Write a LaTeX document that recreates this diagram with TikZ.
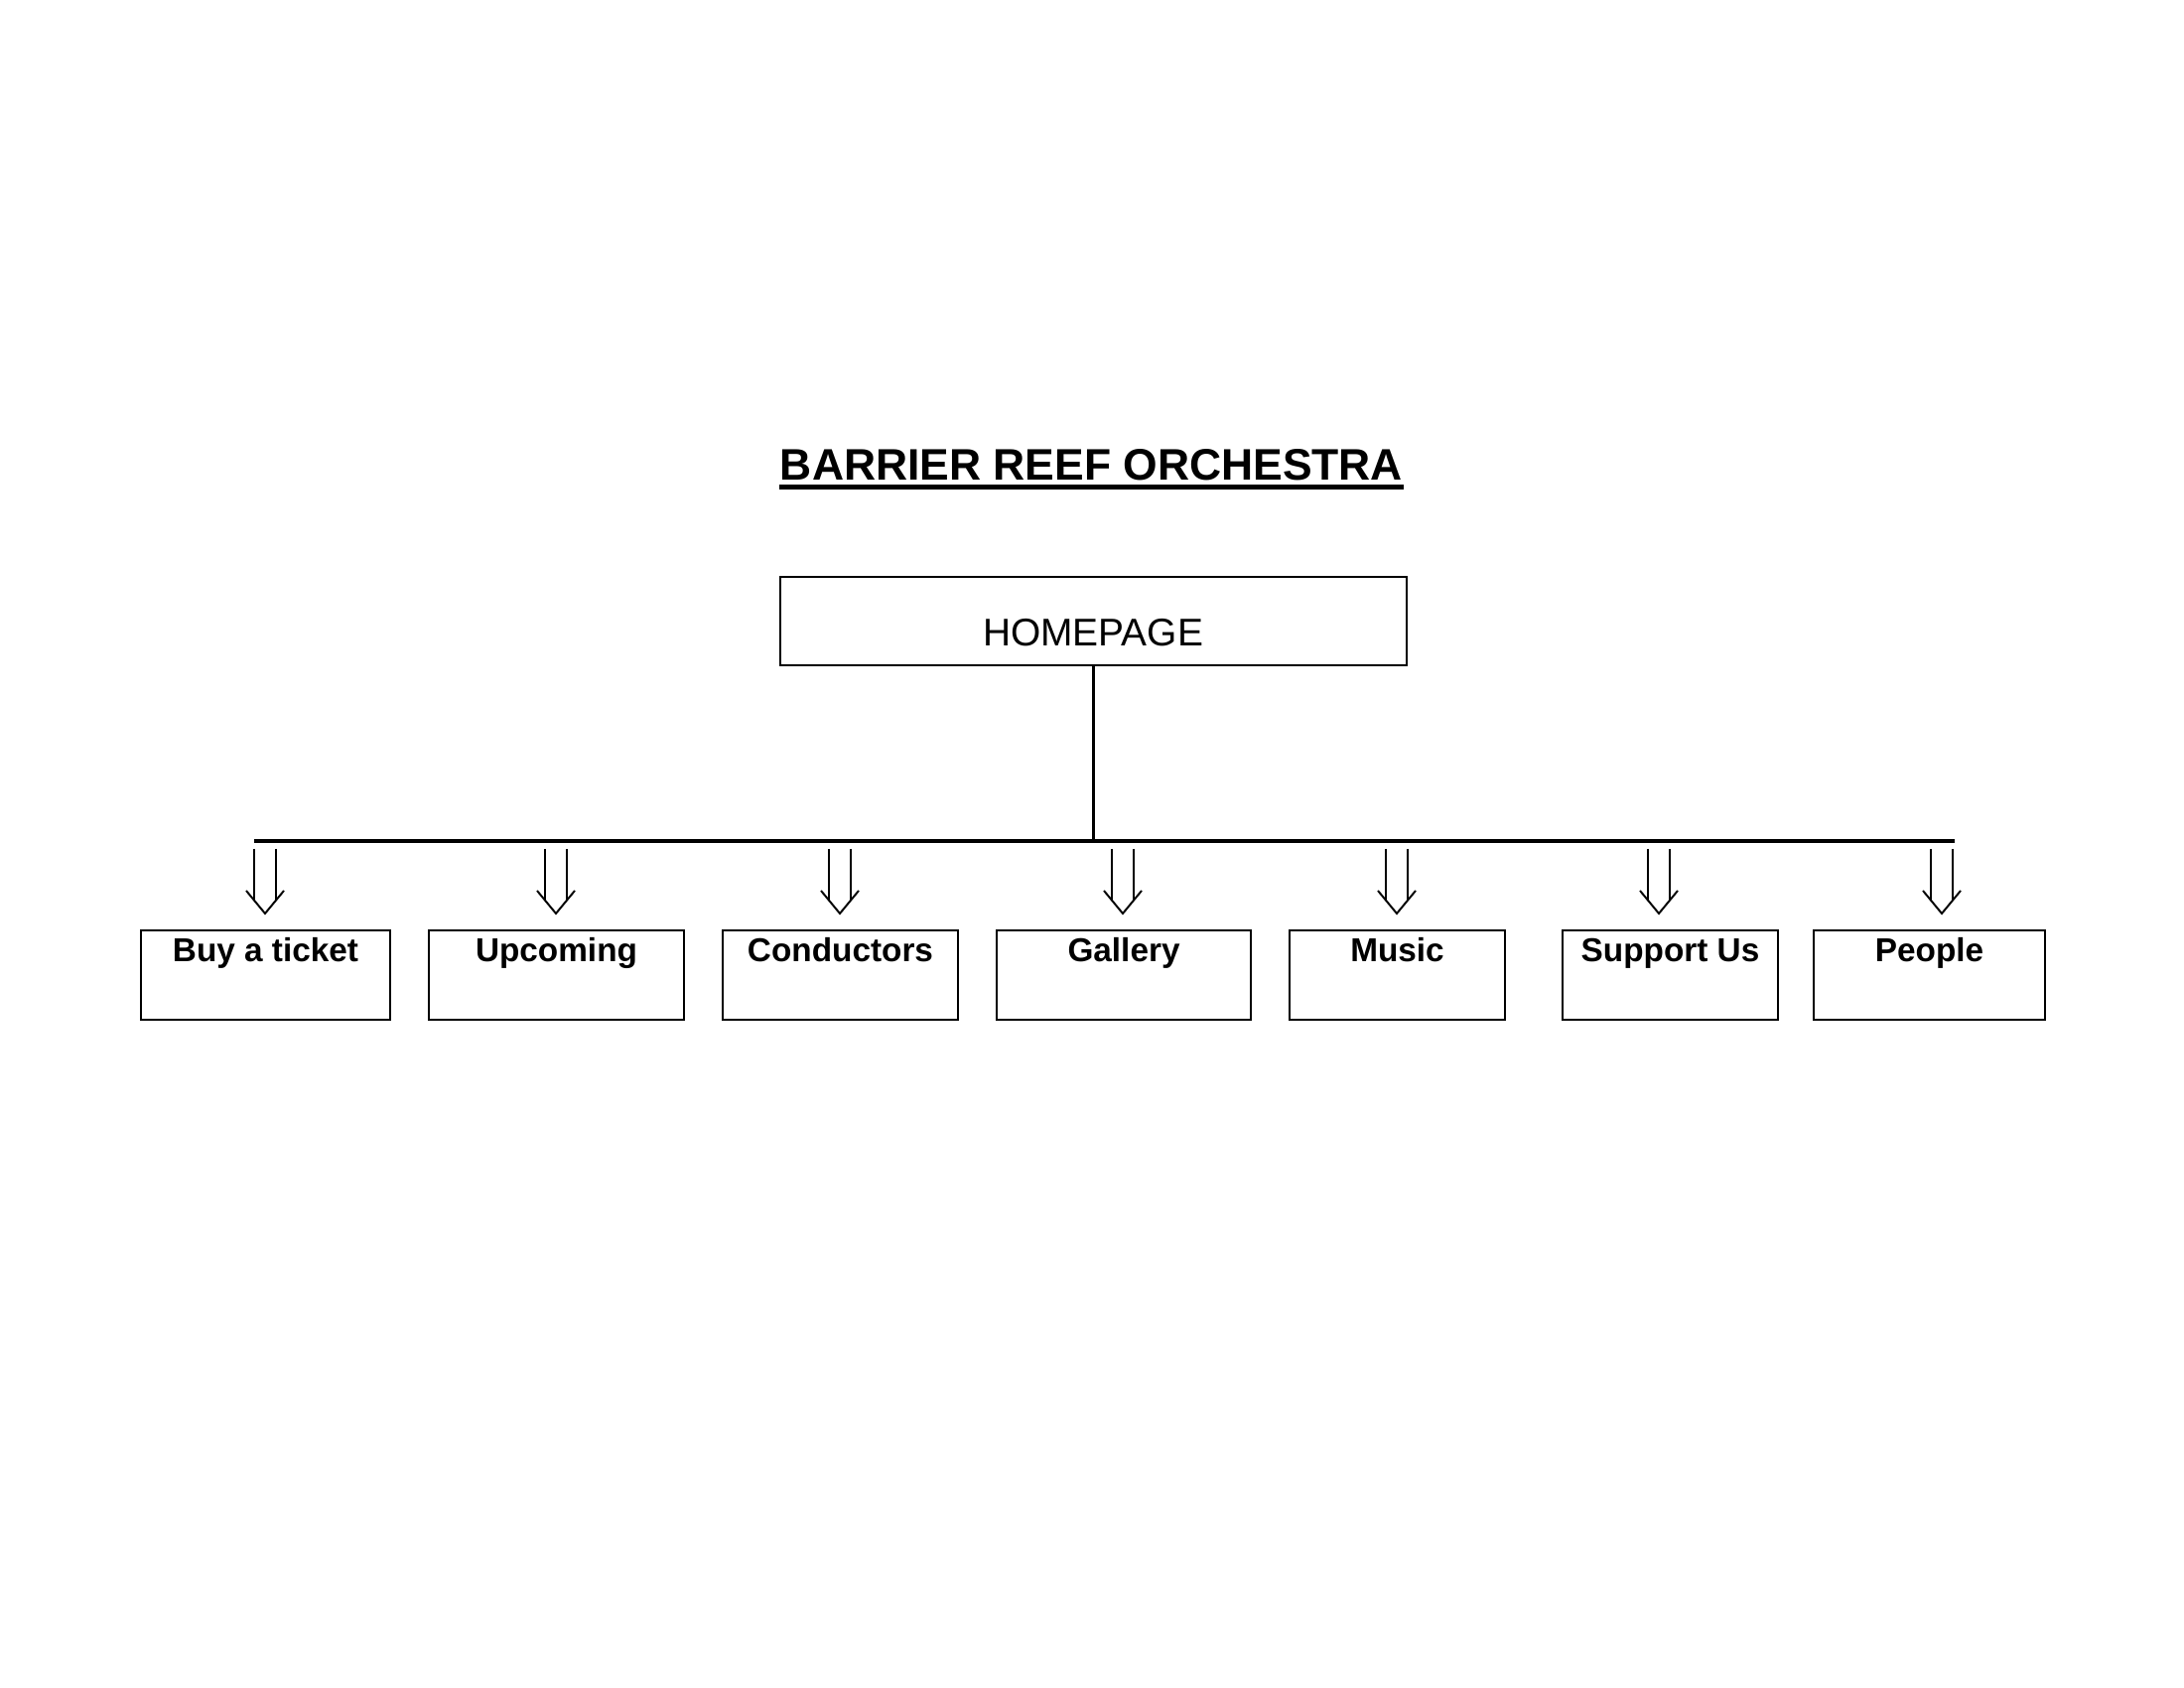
\documentclass[tikz,border=0pt]{standalone}
\usepackage{fontspec}
\setmainfont{Liberation Sans}
\begin{document}
\begin{tikzpicture}[x=0.36pt, y=-0.36pt,
  titletext/.style={inner sep=0pt, font=\fontsize{16pt}{19pt}\selectfont\bfseries},
  hometext/.style={inner sep=0pt, font=\fontsize{14pt}{17pt}\selectfont},
  frame/.style={draw, line width=0.7pt, inner sep=0pt},
  pagebox/.style 2 args={frame, minimum width=#1*0.36pt, minimum height=#2*0.36pt},
  boxtext/.style={inner sep=0pt, font=\fontsize{12pt}{14pt}\selectfont\bfseries},
  bus/.style={line width=1.1pt},
  stem/.style={line width=0.8pt},
  dblarrow/.style={line width=0.7pt}
]
\useasboundingbox (0,0) rectangle (2200,1700);
\fill[white] (0,0) rectangle (2200,1700);

% title
\node[titletext, anchor=base] (title) at (1099.5,484) {BARRIER REEF ORCHESTRA};
\draw[line width=1.8pt] ([yshift=-7*0.36pt]title.base west) -- ([yshift=-7*0.36pt]title.base east);

% homepage
\node[pagebox={631}{89}] (home) at (1101.5,625.5) {};
\node[hometext, anchor=base] (hometxt) at (1101,651) {HOMEPAGE};

% bus
\coordinate (busL) at (256,847);
\coordinate (busR) at (1969,847);
\draw[stem] (home.south) -- (home.south |- busL);
\draw[bus] (busL) -- (busR);

% boxes
\foreach \n/\l/\r/\t in {1/142/393/Buy a ticket, 2/432/689/Upcoming, 3/728/965/Conductors,
  4/1004/1260/Gallery, 5/1299/1516/Music, 6/1574/1791/Support Us, 7/1827/2060/People}{
  \pgfmathsetmacro{\cx}{(\l+\r)/2}
  \pgfmathsetmacro{\w}{\r-\l}
  \node[pagebox={\w}{90}] (b\n) at (\cx,982) {};
  \node[boxtext, anchor=base] (t\n) at ([yshift=-32*0.36pt]b\n.north) {\t};
}

% double arrows
\foreach \ax in {267,560,846,1131,1407,1671,1956}{
  \draw[dblarrow] (\ax-11,855) -- (\ax-11,907.3);
  \draw[dblarrow] (\ax+11,855) -- (\ax+11,907.3);
  \draw[dblarrow, line join=miter] (\ax-19,897) -- (\ax,920) -- (\ax+19,897);
}
\end{tikzpicture}
\end{document}
